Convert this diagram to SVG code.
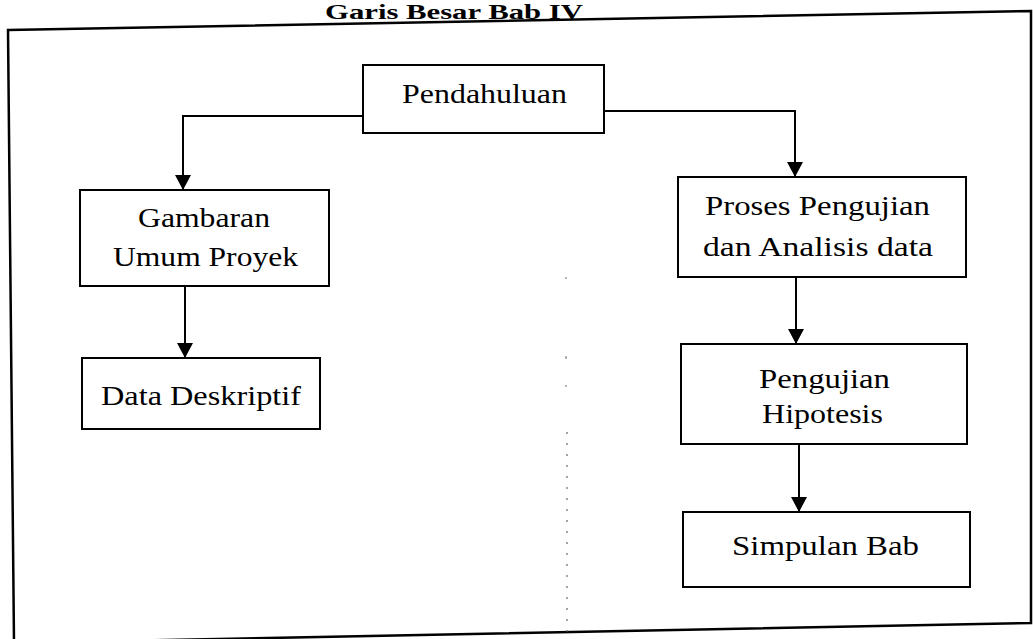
<svg xmlns="http://www.w3.org/2000/svg" width="1033" height="639" viewBox="0 0 1033 639">
  <style>
    .box { fill: #ffffff; stroke: #000000; stroke-width: 2; }
    .lbl { font-size: 27px; fill: #000000; }
    .title { font-size: 21px; font-weight: bold; fill: #000000; }
    .conn { fill: none; stroke: #000000; stroke-width: 2; }
    .frame { fill: none; stroke: #000000; stroke-width: 2.5; }
    .speck { stroke: #555555; stroke-width: 1.5; fill: none; }
  </style>
  <defs>
    <marker id="arrow" markerUnits="userSpaceOnUse" markerWidth="16" markerHeight="16" viewBox="0 0 16 16" refX="15" refY="8" orient="auto">
      <path d="M0,0 L15,8 L0,16 Z" fill="#000000"/>
    </marker>
  </defs>

  <rect width="1033" height="639" fill="#ffffff"/>

  <g font-family="Liberation Serif, serif">
  <!-- heading -->
  <text class="title" x="325" y="19" textLength="258" lengthAdjust="spacingAndGlyphs">Garis Besar Bab IV</text>

  <!-- outer frame (page slightly skewed) -->
  <path class="frame" d="M8,30 L1031,11 L1031,623 L14,643 Z"/>

  <!-- faint dotted guide down the middle -->
  <g id="guide">
    <line class="speck" x1="567" y1="432" x2="567" y2="632" stroke-dasharray="2 9" opacity="0.7"/>
    <line class="speck" x1="566" y1="277" x2="566" y2="279" opacity="0.6"/>
    <line class="speck" x1="566" y1="356" x2="566" y2="359" opacity="0.6"/>
    <line class="speck" x1="566" y1="385" x2="566" y2="387" opacity="0.6"/>
  </g>

  <!-- connectors -->
  <g id="connectors">
    <path class="conn" d="M363,116 H183 V190" marker-end="url(#arrow)"/>
    <path class="conn" d="M604,111 H795 V177" marker-end="url(#arrow)"/>
    <path class="conn" d="M185,286 V358" marker-end="url(#arrow)"/>
    <path class="conn" d="M796,277 V344" marker-end="url(#arrow)"/>
    <path class="conn" d="M799,444 V512" marker-end="url(#arrow)"/>
  </g>

  <g id="pendahuluan">
    <rect class="box" x="363" y="65" width="241" height="68"/>
    <text class="lbl" x="402" y="103" textLength="165" lengthAdjust="spacingAndGlyphs">Pendahuluan</text>
  </g>

  <g id="gambaran">
    <rect class="box" x="80" y="190" width="249" height="96"/>
    <text class="lbl" x="138" y="227" textLength="132" lengthAdjust="spacingAndGlyphs">Gambaran</text>
    <text class="lbl" x="113" y="266" textLength="185" lengthAdjust="spacingAndGlyphs">Umum Proyek</text>
  </g>

  <g id="data-deskriptif">
    <rect class="box" x="82" y="358" width="238" height="71"/>
    <text class="lbl" x="101" y="405" textLength="200" lengthAdjust="spacingAndGlyphs">Data Deskriptif</text>
  </g>

  <g id="proses">
    <rect class="box" x="678" y="177" width="288" height="100"/>
    <text class="lbl" x="705" y="215" textLength="225" lengthAdjust="spacingAndGlyphs">Proses Pengujian</text>
    <text class="lbl" x="703" y="256" textLength="230" lengthAdjust="spacingAndGlyphs">dan Analisis data</text>
  </g>

  <g id="pengujian">
    <rect class="box" x="681" y="344" width="286" height="100"/>
    <text class="lbl" x="759" y="388" textLength="131" lengthAdjust="spacingAndGlyphs">Pengujian</text>
    <text class="lbl" x="762" y="423" textLength="121" lengthAdjust="spacingAndGlyphs">Hipotesis</text>
  </g>

  <g id="simpulan">
    <rect class="box" x="683" y="512" width="287" height="75"/>
    <text class="lbl" x="732" y="555" textLength="187" lengthAdjust="spacingAndGlyphs">Simpulan Bab</text>
  </g>
  </g>
</svg>
